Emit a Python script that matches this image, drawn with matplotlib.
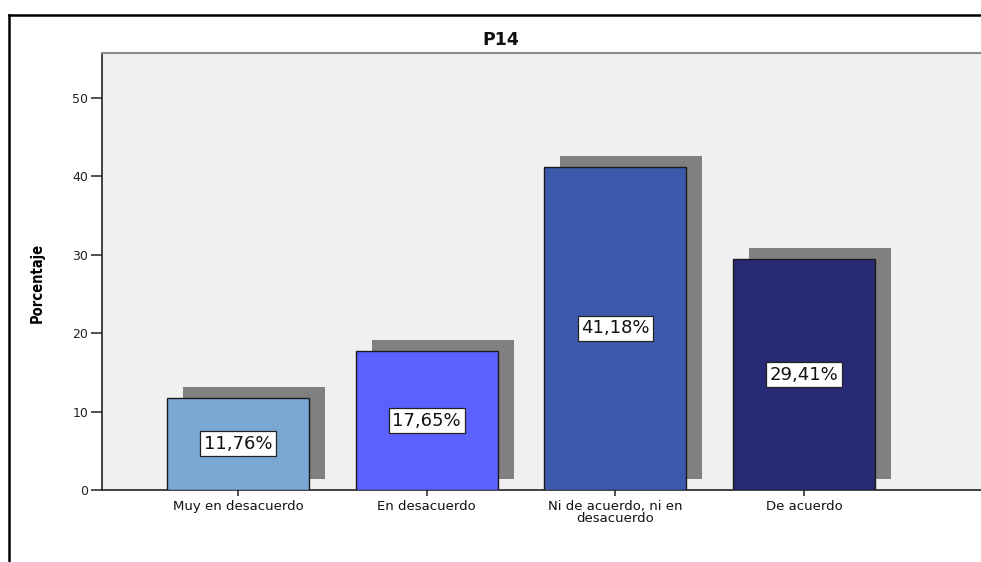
import matplotlib
matplotlib.use("Agg")
import matplotlib.pyplot as plt
from matplotlib.lines import Line2D

# Survey item P14: share of answers per category
categories = ["Muy en desacuerdo", "En desacuerdo",
              "Ni de acuerdo, ni en\ndesacuerdo", "De acuerdo"]
percentages = [11.76, 17.65, 41.18, 29.41]
labels = ["11,76%", "17,65%", "41,18%", "29,41%"]
bar_colors = ["#7ba7d5", "#5b61ff", "#3d59ab", "#272a74"]
y_ticks = [0, 10, 20, 30, 40, 50]

W, H = 981, 562
fig = plt.figure(figsize=(W / 100, H / 100), dpi=100)
fig.patch.set_facecolor("white")

def fx(px):
    return px / W

def fy(py):
    return 1 - py / H

# outer frame (top and left edges)
fig.add_artist(Line2D([fx(9), fx(9)], [fy(15), 0], transform=fig.transFigure,
                      color="black", lw=1.8))
fig.add_artist(Line2D([fx(9), 1], [fy(15), fy(15)], transform=fig.transFigure,
                      color="black", lw=1.8))

ax_left = fx(102)
ax_w = 1 - ax_left
ax = fig.add_axes([ax_left, fy(490), ax_w, fy(53) - fy(490)])
ax.set_facecolor("#f0f0f0")

x = list(range(len(categories)))
width = 0.753
shadow_dx = 0.085
shadow_dy = 1.4

# drop shadows
ax.bar([i + shadow_dx for i in x], percentages, width=width, bottom=shadow_dy,
       color="#808080", edgecolor="none", zorder=2)
# bars
ax.bar(x, percentages, width=width, color=bar_colors, edgecolor="#1a1a1a",
       linewidth=1.0, zorder=3)

for i, (v, lab) in enumerate(zip(percentages, labels)):
    ax.text(i, v / 2, lab, ha="center", va="center", fontsize=13,
            family="DejaVu Sans", color="#111111", zorder=5,
            bbox=dict(boxstyle="square,pad=0.2", facecolor="white",
                      edgecolor="#222222", linewidth=0.9))

ax.set_xlim(-0.721, 3.938)
ax.set_ylim(0, 55.67)

ax.set_yticks(y_ticks)
ax.set_yticklabels([str(t) for t in y_ticks], fontsize=9, family="DejaVu Sans",
                   color="#222222")
ax.set_xticks(x)
ax.set_xticklabels(categories, fontsize=9.5, family="DejaVu Sans",
                   color="#111111", linespacing=0.9)
ax.tick_params(axis="y", direction="out", length=8, width=1.1, color="#222222",
               pad=2)
ax.tick_params(axis="x", direction="out", length=4, width=1.1, color="#222222",
               pad=3)

for side in ("left", "bottom"):
    ax.spines[side].set_color("#222222")
    ax.spines[side].set_linewidth(1.2)
ax.spines["right"].set_visible(False)
ax.spines["top"].set_color("#8a8a8a")
ax.spines["top"].set_linewidth(1.5)

ax.set_ylabel("Porcentaje", fontsize=10.5, fontweight="bold",
              fontstretch="condensed",
              family=["Liberation Sans Narrow", "DejaVu Sans"], labelpad=0)
ax.yaxis.set_label_coords((fx(45) - ax_left) / ax_w, (490 - 283) / 437)

fig.text(fx(501), fy(40), "P14", ha="center", va="center", fontsize=12.5,
         fontweight="bold", family="DejaVu Sans", color="#111111")

fig.savefig("out.png", dpi=100)
